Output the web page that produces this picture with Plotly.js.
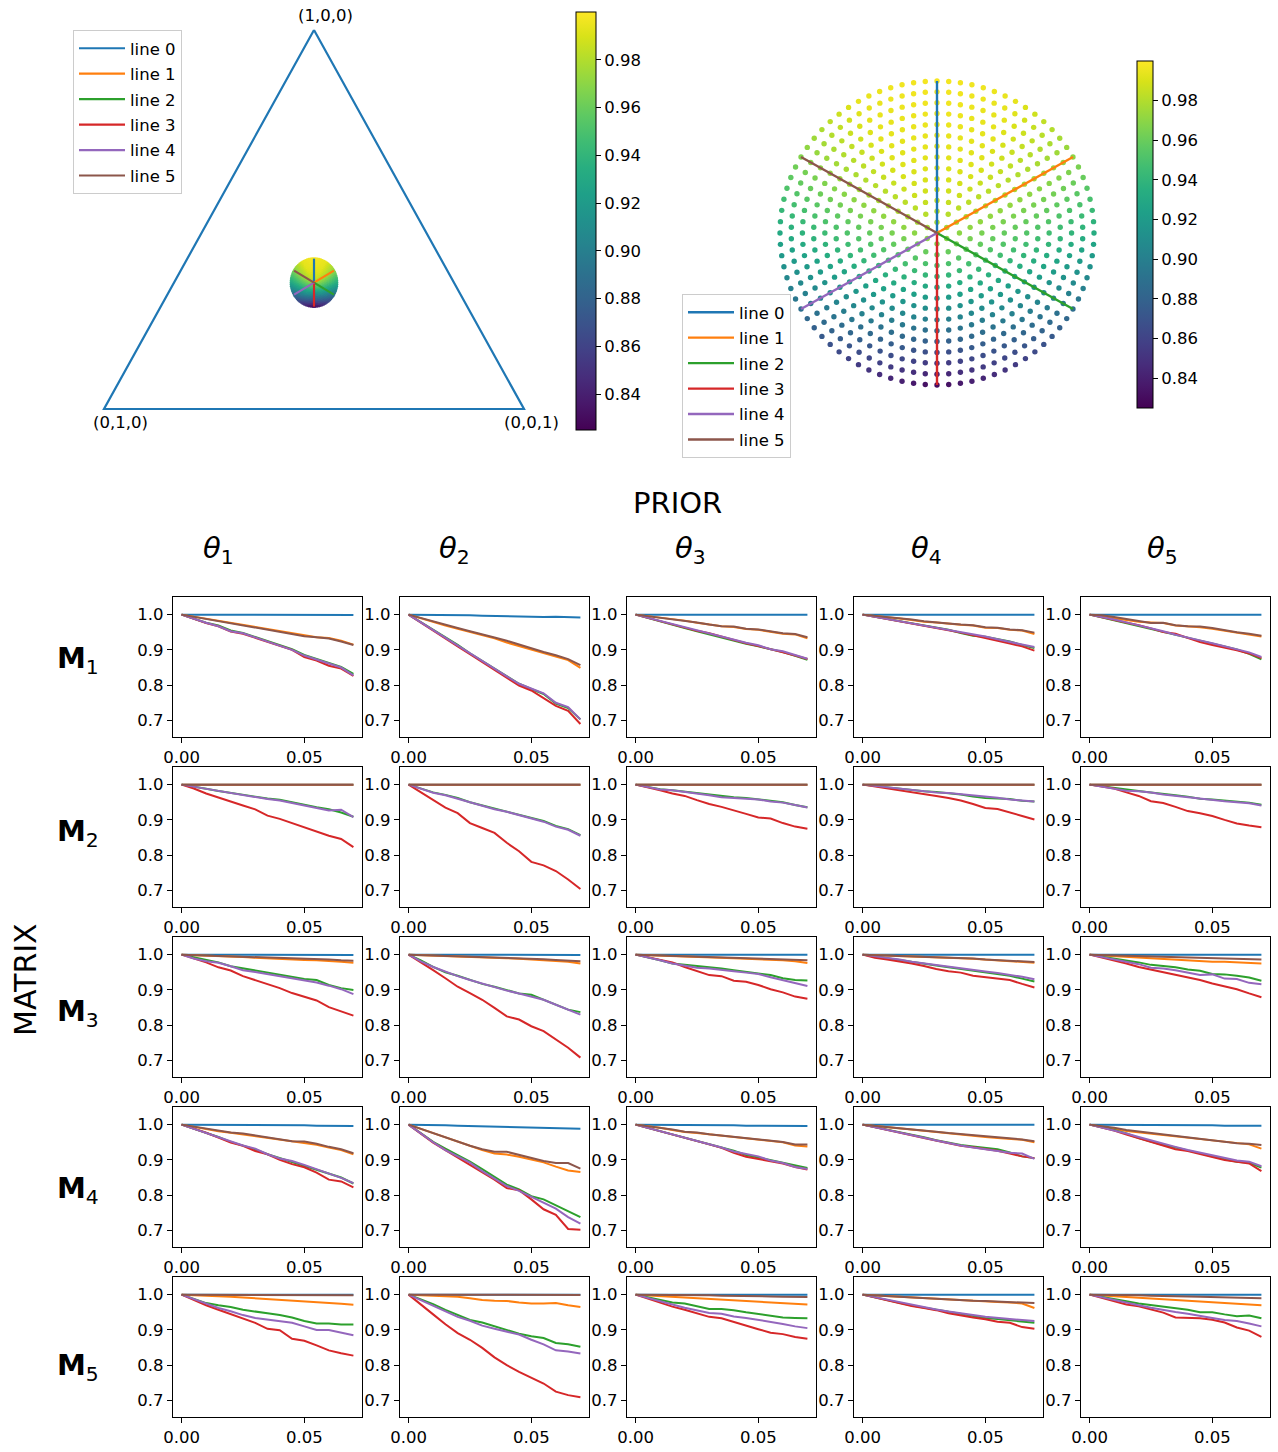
<!DOCTYPE html>
<html><head><meta charset="utf-8">
<script src="https://cdn.plot.ly/plotly-3.0.1.min.js"></script>
<style>body{margin:0;background:#fff}#chart{width:1278px;height:1452px}</style>
</head><body><div id="chart"></div>
<script>
// ---------------- DATA ----------------
const lineNames = ['line 0','line 1','line 2','line 3','line 4','line 5'];
const rayAngles = [90, 30, -30, -90, -150, 150];
const xSteps = [0,0.005,0.01,0.015,0.02,0.025,0.03,0.035,0.04,0.045,0.05,0.055,0.06,0.065,0.07];
const colTitles = ['1','2','3','4','5'];
const rowTitles = ['1','2','3','4','5'];
const vertexLabels = ['(1,0,0)','(0,1,0)','(0,0,1)'];
const cbTicks = [0.84,0.86,0.88,0.90,0.92,0.94,0.96,0.98];
const xTicks = [0, 0.05];
const xTickText = ['0.00','0.05'];
const yTicks = [0.7, 0.8, 0.9, 1.0];
const yTickText = ['0.7','0.8','0.9','1.0'];

// disk lattice: ring index and number of points on each ring
const ringIndex  = [0,1,2,3,4,5,6,7,8,9,10,11,12,13,14];
const ringCounts = [1,6,12,18,24,30,36,42,48,54,60,66,72,78,84];
// colour values read from the disk: directions (deg, clockwise from top) x radial fraction [0,.25,.5,.75,1]
const diskDirs = [90, 60, 30, 0, -30, -60, -90, -120, -150, -180, -210, -240];
const diskRadialFrac = [0, 0.25, 0.5, 0.75, 1];
const diskVals = [
  [.975,.988,.993,.996,.998],
  [.975,.986,.991,.993,.994],
  [.975,.978,.978,.975,.970],
  [.975,.966,.956,.945,.933],
  [.975,.955,.935,.912,.888],
  [.975,.948,.918,.887,.855],
  [.975,.943,.908,.870,.830],
  [.975,.948,.918,.887,.855],
  [.975,.955,.935,.912,.888],
  [.975,.966,.955,.943,.931],
  [.975,.978,.977,.973,.967],
  [.975,.986,.991,.993,.994]
];

const ONE = [1,1,1,1,1,1,1,1,1,1,1,1,1,1,1];

const M1_T1 = [
  [1,1,1,1,1,1,1,1,1,.999,.999,.999,.999,.999,.999],
  [1,.994,.988,.982,.976,.970,.964,.958,.952,.946,.940,.936,.934,.926,.915],
  [1,.989,.977,.969,.955,.948,.937,.926,.914,.902,.886,.874,.862,.852,.832],
  [1,.988,.976,.967,.952,.946,.935,.923,.912,.900,.880,.870,.855,.847,.826],
  [1,.988,.977,.967,.953,.947,.935,.925,.911,.900,.884,.873,.860,.850,.828],
  [1,.994,.987,.981,.975,.970,.964,.957,.951,.945,.939,.936,.932,.924,.914]];
const M1_T2 = [
  [1,1,1,.999,.999,.998,.997,.996,.995,.995,.994,.993,.994,.993,.992],
  [1,.989,.978,.969,.960,.951,.940,.933,.921,.911,.900,.892,.882,.871,.849],
  [1,.979,.957,.935,.914,.890,.868,.846,.826,.804,.789,.775,.748,.735,.703],
  [1,.977,.955,.933,.910,.888,.866,.843,.821,.799,.785,.762,.741,.727,.690],
  [1,.978,.956,.933,.912,.889,.867,.846,.825,.804,.790,.777,.750,.738,.703],
  [1,.990,.980,.971,.962,.953,.943,.935,.926,.915,.904,.894,.885,.874,.857]];
const M1_T3 = [
  [1,1,1,1,1,1,1,1,1,1,1,1,1,1,1],
  [1,.996,.991,.987,.983,.977,.971,.967,.965,.959,.957,.952,.946,.944,.933],
  [1,.990,.980,.970,.962,.953,.944,.934,.925,.917,.910,.902,.894,.883,.872],
  [1,.991,.981,.971,.962,.954,.947,.937,.927,.919,.911,.901,.893,.884,.874],
  [1,.991,.982,.972,.963,.955,.947,.937,.928,.920,.913,.902,.896,.885,.875],
  [1,.996,.991,.987,.983,.978,.972,.967,.966,.960,.958,.953,.947,.945,.936]];
const M1_T4 = [
  [1,1,1,1,1,1,1,1,1,1,1,1,1,1,1],
  [1,.997,.993,.989,.985,.980,.978,.974,.971,.969,.963,.962,.957,.955,.945],
  [1,.994,.988,.982,.975,.969,.963,.957,.948,.940,.937,.931,.924,.914,.905],
  [1,.994,.988,.981,.975,.968,.963,.956,.949,.942,.935,.926,.918,.910,.898],
  [1,.994,.988,.982,.975,.970,.964,.958,.950,.944,.938,.930,.922,.915,.908],
  [1,.997,.993,.990,.986,.981,.979,.975,.972,.970,.964,.963,.958,.956,.949]];
const M1_T5 = [
  [1,1,1,1,1,1,1,1,1,1,1,1,1,1,1],
  [1,.996,.990,.985,.980,.978,.976,.969,.967,.964,.960,.954,.949,.944,.938],
  [1,.992,.984,.976,.968,.960,.952,.943,.934,.926,.918,.910,.901,.889,.873],
  [1,.993,.986,.977,.970,.961,.951,.946,.933,.922,.914,.907,.899,.890,.877],
  [1,.994,.986,.978,.970,.961,.953,.943,.936,.927,.919,.911,.902,.893,.880],
  [1,.998,.993,.988,.983,.976,.977,.970,.967,.966,.962,.955,.950,.946,.940]];

const M2_T1 = [ONE, ONE,
  [1,.993,.988,.982,.976,.971,.966,.961,.957,.950,.942,.936,.930,.921,.909],
  [1,.989,.975,.963,.951,.941,.930,.912,.903,.891,.879,.867,.855,.846,.823],
  [1,.994,.988,.981,.975,.970,.963,.959,.955,.948,.940,.933,.927,.929,.908],
  ONE];
const M2_T2 = [ONE, ONE,
  [1,.990,.978,.971,.962,.950,.941,.931,.924,.915,.906,.897,.883,.874,.857],
  [1,.979,.956,.935,.919,.891,.877,.863,.835,.811,.781,.771,.755,.731,.704],
  [1,.989,.977,.970,.960,.948,.940,.930,.923,.914,.905,.895,.881,.872,.855],
  ONE];
const M2_T3 = [ONE, ONE,
  [1,.993,.987,.984,.980,.976,.971,.966,.964,.962,.958,.953,.950,.942,.936],
  [1,.993,.984,.975,.968,.956,.945,.937,.926,.917,.907,.904,.891,.881,.875],
  [1,.993,.986,.984,.980,.975,.970,.964,.962,.962,.958,.952,.949,.942,.935],
  ONE];
const M2_T4 = [ONE, ONE,
  [1,.996,.992,.988,.985,.981,.979,.976,.972,.966,.962,.961,.959,.954,.952],
  [1,.995,.989,.984,.978,.974,.968,.962,.955,.945,.934,.931,.922,.911,.901],
  [1,.996,.992,.988,.984,.980,.978,.976,.973,.968,.965,.963,.958,.954,.952],
  ONE];
const M2_T5 = [ONE, ONE,
  [1,.995,.990,.985,.982,.978,.973,.970,.966,.960,.958,.955,.951,.949,.943],
  [1,.994,.989,.978,.968,.953,.948,.937,.925,.919,.911,.900,.890,.884,.879],
  [1,.995,.989,.983,.981,.978,.972,.968,.964,.959,.956,.953,.950,.947,.941],
  ONE];

const M3_T1 = [
  [1,1,1,1,1,1,1,1,1,1,.999,.999,.999,.999,.999],
  [1,.999,.998,.996,.994,.993,.991,.989,.988,.986,.985,.984,.983,.980,.977],
  [1,.992,.984,.978,.967,.961,.954,.947,.942,.936,.931,.928,.914,.905,.900],
  [1,.989,.978,.964,.955,.939,.928,.917,.905,.891,.881,.870,.851,.839,.827],
  [1,.989,.981,.977,.967,.956,.951,.945,.937,.931,.925,.921,.912,.902,.888],
  [1,.999,.998,.997,.996,.994,.992,.991,.990,.989,.988,.987,.986,.984,.983]];
const M3_T2 = [
  [1,1,1,1,1,1,1,1,1,.999,.999,.999,.999,.999,.999],
  [1,.999,.998,.997,.995,.994,.993,.992,.990,.988,.986,.985,.983,.980,.975],
  [1,.984,.965,.950,.940,.928,.917,.909,.900,.890,.886,.872,.858,.844,.837],
  [1,.979,.956,.933,.909,.891,.872,.849,.825,.816,.797,.783,.760,.736,.708],
  [1,.981,.965,.951,.939,.928,.918,.907,.898,.890,.881,.872,.858,.844,.830],
  [1,.999,.998,.997,.996,.995,.994,.993,.991,.990,.988,.987,.985,.983,.981]];
const M3_T3 = [
  [1,1,1,1,1,1,1,1,1,1,1,1,1,1,1],
  [1,.999,.998,.997,.995,.994,.992,.991,.990,.988,.987,.986,.984,.981,.976],
  [1,.993,.984,.975,.972,.968,.965,.961,.956,.951,.947,.942,.933,.928,.927],
  [1,.993,.986,.978,.965,.953,.942,.939,.926,.923,.914,.902,.893,.881,.875],
  [1,.993,.984,.975,.968,.963,.961,.958,.953,.949,.945,.936,.928,.920,.911],
  [1,.999,.998,.997,.996,.995,.994,.993,.992,.991,.990,.988,.987,.986,.984]];
const M3_T4 = [
  [1,1,1,1,1,1,1,1,1,1,1,1,1,1,1],
  [1,.999,.998,.997,.996,.995,.994,.992,.990,.988,.986,.984,.982,.980,.977],
  [1,.996,.990,.985,.979,.973,.969,.964,.959,.954,.949,.946,.940,.932,.924],
  [1,.991,.986,.981,.975,.968,.959,.953,.949,.940,.936,.932,.928,.917,.907],
  [1,.996,.991,.986,.980,.975,.970,.966,.962,.957,.952,.948,.943,.937,.930],
  [1,.999,.998,.997,.996,.995,.994,.993,.991,.989,.986,.984,.982,.981,.979]];
const M3_T5 = [
  [1,1,1,1,1,1,1,1,1,1,1,1,1,1,1],
  [1,.998,.995,.993,.990,.988,.986,.984,.983,.981,.980,.980,.979,.977,.975],
  [1,.995,.990,.985,.978,.971,.968,.964,.958,.954,.945,.944,.940,.935,.926],
  [1,.992,.984,.975,.965,.958,.949,.942,.935,.928,.918,.909,.902,.890,.879],
  [1,.993,.987,.981,.973,.963,.961,.956,.950,.942,.944,.932,.931,.920,.916],
  [1,.999,.998,.997,.996,.995,.994,.993,.992,.991,.990,.989,.988,.987,.986]];

const M4_T1 = [
  [1,1,1,1,.999,.999,.999,.998,.998,.998,.998,.997,.997,.997,.996],
  [1,.993,.987,.981,.977,.972,.967,.962,.957,.952,.949,.943,.935,.928,.916],
  [1,.989,.978,.965,.951,.940,.930,.916,.905,.895,.884,.872,.861,.850,.833],
  [1,.989,.977,.963,.949,.940,.925,.916,.900,.888,.879,.864,.844,.839,.822],
  [1,.988,.978,.966,.952,.941,.932,.916,.904,.897,.886,.874,.860,.849,.834],
  [1,.994,.988,.982,.978,.975,.970,.965,.960,.953,.952,.946,.937,.930,.919]];
const M4_T2 = [
  [1,1,.999,.998,.997,.996,.996,.995,.995,.994,.993,.992,.991,.990,.988],
  [1,.988,.975,.963,.951,.939,.928,.918,.915,.909,.901,.893,.881,.870,.866],
  [1,.975,.951,.932,.914,.895,.874,.852,.830,.816,.797,.788,.771,.755,.738],
  [1,.975,.949,.928,.907,.886,.864,.844,.820,.814,.788,.760,.744,.704,.702],
  [1,.975,.950,.928,.910,.892,.868,.846,.826,.812,.795,.780,.762,.738,.719],
  [1,.988,.975,.963,.951,.940,.930,.923,.923,.914,.905,.897,.891,.891,.875]];
const M4_T3 = [
  [1,1,1,.999,.999,.998,.998,.998,.998,.997,.997,.997,.996,.996,.996],
  [1,.996,.991,.985,.979,.976,.972,.968,.965,.960,.957,.954,.950,.941,.938],
  [1,.991,.982,.972,.963,.955,.946,.936,.926,.914,.907,.899,.893,.885,.877],
  [1,.991,.981,.971,.962,.953,.944,.934,.920,.909,.903,.895,.890,.880,.873],
  [1,.991,.981,.971,.962,.954,.945,.935,.924,.917,.910,.898,.891,.880,.874],
  [1,.996,.992,.986,.980,.978,.973,.969,.966,.961,.958,.955,.951,.944,.944]];
const M4_T4 = [
  [1,1,1,1,1,1,1,1,1,1,1,1,1,1,1],
  [1,.997,.993,.989,.986,.983,.979,.975,.972,.969,.965,.962,.959,.957,.950],
  [1,.993,.986,.980,.971,.964,.956,.949,.942,.938,.934,.930,.921,.910,.905],
  [1,.993,.986,.979,.970,.962,.955,.946,.940,.936,.932,.926,.918,.910,.905],
  [1,.993,.986,.979,.970,.963,.955,.947,.941,.935,.929,.925,.920,.918,.903],
  [1,.997,.994,.990,.987,.984,.980,.976,.973,.970,.967,.964,.960,.958,.953]];
const M4_T5 = [
  [1,1,1,1,.999,.999,.999,.998,.998,.998,.998,.997,.997,.997,.997],
  [1,.995,.988,.982,.978,.974,.970,.967,.963,.958,.955,.951,.946,.944,.932],
  [1,.993,.985,.975,.962,.952,.942,.935,.926,.918,.910,.902,.895,.892,.878],
  [1,.992,.983,.972,.962,.952,.942,.930,.925,.917,.910,.900,.895,.890,.868],
  [1,.992,.984,.975,.965,.955,.947,.937,.928,.920,.914,.906,.898,.895,.882],
  [1,.996,.991,.985,.981,.977,.973,.969,.965,.960,.957,.953,.947,.946,.942]];

const M5_T1 = [
  [1,1,1,1,1,1,1,1,1,1,1,1,1,1,1],
  [1,.999,.998,.996,.994,.992,.990,.987,.985,.982,.981,.979,.977,.974,.971],
  [1,.988,.976,.970,.965,.957,.951,.947,.942,.935,.925,.918,.918,.915,.915],
  [1,.984,.970,.957,.945,.933,.920,.903,.899,.875,.869,.856,.842,.834,.827],
  [1,.987,.973,.962,.953,.942,.934,.930,.926,.920,.910,.900,.900,.892,.885],
  [1,1,1,.999,.999,.999,.999,.999,.998,.998,.998,.998,.998,.998,.998]];
const M5_T2 = [
  [1,1,1,1,1,1,1,1,1,1,1,1,1,1,1],
  [1,.999,.998,.997,.994,.990,.985,.983,.982,.978,.975,.975,.976,.970,.965],
  [1,.987,.973,.957,.943,.928,.921,.910,.900,.889,.882,.877,.863,.859,.852],
  [1,.973,.944,.916,.891,.872,.849,.822,.800,.781,.765,.748,.725,.715,.709],
  [1,.984,.968,.953,.937,.926,.912,.903,.896,.887,.872,.859,.842,.839,.833],
  [1,1,1,1,1,1,1,1,1,1,1,1,1,1,.999]];
const M5_T3 = [
  [1,1,1,1,1,1,1,1,1,1,1,1,1,1,1],
  [1,.998,.996,.993,.991,.989,.987,.985,.984,.982,.980,.978,.976,.973,.972],
  [1,.992,.984,.978,.975,.966,.959,.959,.956,.950,.945,.940,.935,.934,.933],
  [1,.988,.977,.966,.957,.948,.937,.933,.922,.912,.902,.892,.888,.880,.875],
  [1,.990,.981,.972,.963,.955,.948,.946,.938,.934,.929,.924,.917,.910,.905],
  [1,1,1,1,.999,.999,.998,.997,.997,.996,.995,.995,.994,.994,.993]];
const M5_T4 = [
  [1,1,1,1,1,1,1,1,1,1,1,1,1,1,1],
  [1,.998,.996,.994,.992,.990,.988,.986,.984,.981,.980,.979,.978,.975,.962],
  [1,.993,.985,.977,.969,.963,.957,.950,.944,.939,.934,.931,.928,.925,.920],
  [1,.992,.983,.976,.968,.962,.956,.947,.940,.935,.930,.923,.920,.908,.903],
  [1,.993,.985,.977,.970,.964,.958,.952,.946,.942,.937,.933,.931,.928,.925],
  [1,.998,.996,.995,.993,.991,.989,.987,.985,.983,.982,.980,.979,.978,.976]];
const M5_T5 = [
  [1,1,1,1,1,1,1,1,1,1,1,1,1,1,1],
  [1,.998,.995,.993,.991,.989,.987,.985,.983,.981,.979,.977,.975,.973,.970],
  [1,.993,.986,.981,.975,.971,.966,.963,.957,.950,.950,.944,.939,.941,.933],
  [1,.990,.982,.972,.967,.958,.949,.935,.935,.933,.929,.921,.907,.898,.880],
  [1,.992,.984,.976,.970,.963,.956,.951,.946,.941,.934,.928,.925,.918,.910],
  [1,1,.999,.998,.998,.997,.997,.996,.995,.994,.993,.992,.991,.991,.990]];

const panels = [
  [M1_T1, M1_T2, M1_T3, M1_T4, M1_T5],
  [M2_T1, M2_T2, M2_T3, M2_T4, M2_T5],
  [M3_T1, M3_T2, M3_T3, M3_T4, M3_T5],
  [M4_T1, M4_T2, M4_T3, M4_T4, M4_T5],
  [M5_T1, M5_T2, M5_T3, M5_T4, M5_T5]];

// ---------------- STYLE / LAYOUT ----------------
const W = 1278, H = 1452;
const colors = ['#1f77b4','#ff7f0e','#2ca02c','#d62728','#9467bd','#8c564b'];
const FONT = 'DejaVu Sans, Liberation Sans, sans-serif';
const TICK = 16.5;
const fx = p => p / W, fy = p => 1 - p / H;

// disk colour lookup built from the read table
function diskValue(k, angDeg) {
  const rf = k / (ringIndex.length - 1);
  let a = 90 - angDeg;
  a = ((a % 360) + 360) % 360;
  const step = 360 / diskDirs.length;
  const i0 = Math.floor(a / step) % diskDirs.length, i1 = (i0 + 1) % diskDirs.length;
  const ta = (a - i0 * step) / step;
  const rs = (diskRadialFrac.length - 1) * rf;
  const j0 = Math.min(Math.floor(rs), diskRadialFrac.length - 2), tr = rs - j0;
  const v = (row) => row[j0] * (1 - tr) + row[j0 + 1] * tr;
  return v(diskVals[i0]) * (1 - ta) + v(diskVals[i1]) * ta;
}
const dx = [], dy = [], dc = [];
ringIndex.forEach((k, idx) => {
  const n = ringCounts[idx];
  const r = k / (ringIndex.length - 1);
  for (let j = 0; j < n; j++) {
    const ang = 90 + 360 * j / n;
    const t = ang * Math.PI / 180;
    dx.push(r * Math.cos(t)); dy.push(r * Math.sin(t));
    dc.push(diskValue(k, ang));
  }
});

const cbCommon = {xpad:0, ypad:0, yanchor:'middle', xanchor:'left', outlinecolor:'#000', outlinewidth:1,
  tickvals:cbTicks, ticktext:cbTicks.map(v=>v.toFixed(2)), ticks:'outside', ticklen:5, tickcolor:'#000',
  tickfont:{size:TICK, family:FONT, color:'#000'}};

const traces = [];
const triCx = 0.5, triCy = 0.2887, triR = 0.0548;
traces.push({x:[0.5,0,1,0.5], y:[0.866,0,0,0.866], mode:'lines', xaxis:'x', yaxis:'y',
  line:{color:colors[0], width:2.2}, showlegend:false, hoverinfo:'skip'});
traces.push({x: dx.map(v => triCx + triR * v), y: dy.map(v => triCy + triR * v), mode:'markers',
  xaxis:'x', yaxis:'y', showlegend:false, hoverinfo:'skip',
  marker:{size:2.8, color:dc, colorscale:'Viridis', cmin:0.825, cmax:1.0, line:{width:0},
    colorbar:Object.assign({x:fx(576), y:fy(221), len:418/H, thickness:20}, cbCommon)}});
traces.push({x: dx, y: dy, mode:'markers', xaxis:'x2', yaxis:'y2', showlegend:false, hoverinfo:'skip',
  marker:{size:5.4, color:dc, colorscale:'Viridis', cmin:0.825, cmax:1.0, line:{width:0},
    colorbar:Object.assign({x:fx(1137), y:fy(234.5), len:347/H, thickness:16}, cbCommon)}});
const rMax = 1;
rayAngles.forEach((a, i) => {
  const t = a * Math.PI / 180;
  traces.push({x:[triCx, triCx + triR * rMax * Math.cos(t)], y:[triCy, triCy + triR * rMax * Math.sin(t)],
    mode:'lines', xaxis:'x', yaxis:'y', name:lineNames[i], legendgroup:'L'+i, legend:'legend',
    line:{color:colors[i], width:2.2}, hoverinfo:'skip'});
});
rayAngles.forEach((a, i) => {
  const t = a * Math.PI / 180;
  traces.push({x:[0, rMax * Math.cos(t)], y:[0, rMax * Math.sin(t)],
    mode:'lines', xaxis:'x2', yaxis:'y2', name:lineNames[i], legendgroup:'R'+i, legend:'legend2',
    line:{color:colors[i], width:2.4}, hoverinfo:'skip'});
});

const legCommon = {xanchor:'left', yanchor:'top', bgcolor:'rgba(255,255,255,0.85)',
  bordercolor:'#cccccc', borderwidth:1, font:{size:TICK, family:FONT, color:'#000'}, tracegroupgap:1, itemwidth:46};
const layout = {
  width: W, height: H, margin:{l:0, r:0, t:0, b:0}, paper_bgcolor:'#fff', plot_bgcolor:'rgba(0,0,0,0)',
  font:{family:FONT, color:'#000', size:TICK},
  xaxis:{domain:[fx(83), fx(545)], range:[-0.05,1.05], visible:false, fixedrange:true},
  yaxis:{domain:[fy(430.9), fy(8.1)], range:[-0.05,0.916], visible:false, fixedrange:true},
  xaxis2:{domain:[fx(764.3), fx(1109.7)], range:[-1.1,1.1], visible:false, fixedrange:true},
  yaxis2:{domain:[fy(400.2), fy(65.8)], range:[-1.1,1.1], visible:false, fixedrange:true},
  legend:Object.assign({x:fx(73), y:fy(30)}, legCommon),
  legend2:Object.assign({x:fx(682), y:fy(294)}, legCommon),
  annotations:[], showlegend:true
};

let n = 3;
for (let r = 0; r < 5; r++) {
  for (let c = 0; c < 5; c++) {
    const left = 173 + 227 * c, right = left + 189;
    const top = 597 + 170 * r, bottom = top + 140;
    const axCommon = {showline:true, mirror:true, linecolor:'#000', linewidth:1.2,
      ticks:'outside', ticklen:5, tickcolor:'#000', showgrid:false, zeroline:false,
      tickfont:{size:TICK, family:FONT, color:'#000'}, fixedrange:true};
    layout['xaxis' + n] = Object.assign({domain:[fx(left), fx(right)], anchor:'y' + n, range:[-0.0035, 0.0735],
      tickvals:xTicks, ticktext:xTickText}, axCommon);
    layout['yaxis' + n] = Object.assign({domain:[fy(bottom), fy(top)], anchor:'x' + n, range:[0.653, 1.05],
      tickvals:yTicks, ticktext:yTickText}, axCommon);
    panels[r][c].forEach((vals, i) => {
      traces.push({x:xSteps, y:vals, mode:'lines', xaxis:'x' + n, yaxis:'y' + n, showlegend:false,
        line:{color:colors[i], width:2}, hoverinfo:'skip'});
    });
    n++;
  }
}

const ann = layout.annotations;
const addText = (text, px, py, size, extra) => ann.push(Object.assign({text, x:fx(px), y:fy(py),
  xref:'paper', yref:'paper', showarrow:false, xanchor:'center', yanchor:'middle',
  font:{size, family:FONT, color:'#000'}}, extra || {}));
addText(vertexLabels[0], 325, 15, TICK);
addText(vertexLabels[1], 120, 423, TICK);
addText(vertexLabels[2], 531, 423, TICK);
addText('PRIOR', 677, 503, 29);
const thetaX = [218, 454, 690, 926, 1162];
colTitles.forEach((s, i) => addText('<i>θ</i><sub>' + s + '</sub>', thetaX[i], 550, 29));
const mY = [660, 833, 1013, 1190, 1367];
rowTitles.forEach((s, i) => addText('<b>M</b><sub>' + s + '</sub>', 78, mY[i], 29));
addText('MATRIX', 25, 980, 30, {textangle:-90});

Plotly.newPlot('chart', traces, layout, {displayModeBar:false, staticPlot:true});
</script>
</body></html>
